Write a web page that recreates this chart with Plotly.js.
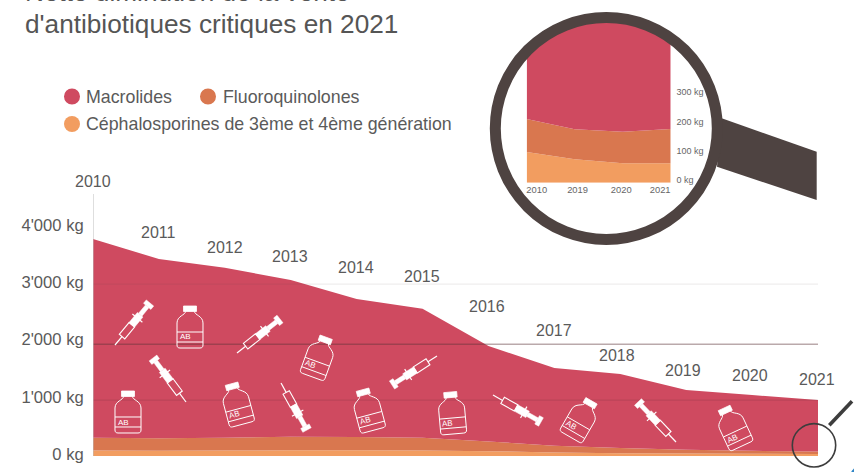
<!DOCTYPE html>
<html>
<head>
<meta charset="utf-8">
<script src="https://cdn.plot.ly/plotly-3.0.1.min.js"></script>
<style>html,body{margin:0;padding:0;background:#fff;}#c{width:854px;height:472px;}</style>
</head>
<body>
<div id="c"></div>
<script>
// ---- data ----
const years = [2010,2011,2012,2013,2014,2015,2016,2017,2018,2019,2020,2021];
const cephalosporines = [95,90,95,100,100,95,85,60,50,45,40,35];
const fluoroquinolones = [225,220,225,235,230,225,170,120,90,65,50,45];
const macrolides = [3467,3128,2967,2736,2410,2250,1665,1355,1290,1040,975,897];
const zoomLabels = ['2010','2019','2020','2021'];
const zoomCephalosporines = [105,80,66,66];
const zoomFluoroquinolones = [112,102,108,117];
const zoomMacrolides = [1290,1040,975,897];
const mainTickText = ["0 kg","1'000 kg","2'000 kg","3'000 kg","4'000 kg"];
const zoomTickText = ['0 kg','100 kg','200 kg','300 kg'];
const seriesNames = ['Macrolides','Fluoroquinolones','Céphalosporines de 3ème et 4ème génération'];
const colors = {macro:'#cf4a60', fluoro:'#d9774f', ceph:'#f29d60'};
const darkText = '#5a5a5a';

// ---- pixel helpers (the paper spans the whole window) ----
const W = 854, H = 472;
const px = x => +(x / W).toFixed(5);
const py = y => +(1 - y / H).toFixed(5);
const FONT = '"Liberation Sans", Arial, sans-serif';

const shapes = [], annotations = [];
function pathFrom(cmds){
  return cmds.map(c => c[0] + (c.length > 1 ? px(c[1]) + ',' + py(c[2]) : '')).join(' ');
}
function addPath(cmds, fill, color, width){
  shapes.push({type:'path', xref:'paper', yref:'paper', layer:'above', path:pathFrom(cmds),
    fillcolor: fill || 'rgba(0,0,0,0)', line:{color: color || 'rgba(0,0,0,0)', width: width || 0}});
}
function addCircle(cx, cy, r, fill, color, width){
  shapes.push({type:'circle', xref:'paper', yref:'paper', layer:'above',
    x0:px(cx-r), x1:px(cx+r), y0:py(cy+r), y1:py(cy-r),
    fillcolor: fill || 'rgba(0,0,0,0)', line:{color: color || 'rgba(0,0,0,0)', width: width || 0}});
}
function addGrid(value, color, w){
  shapes.push({type:'line', xref:'x', yref:'y', layer:'above', x0:2010, x1:2021, y0:value, y1:value,
    line:{color:color, width:w}});
}
function text(str, x, y, size, color, anchor, angle){
  annotations.push({xref:'paper', yref:'paper', x:px(x), y:py(y), text:str, showarrow:false,
    xanchor:anchor||'left', yanchor:'middle', textangle:angle||0,
    font:{family:FONT, size:size, color:color||darkText}, borderpad:0, borderwidth:0});
}

// ---- gridlines, drawn over the area as in the reference ----
addGrid(3000, 'rgba(90,70,70,0.12)', 1);
addGrid(1950, 'rgba(90,50,55,0.42)', 1.3);
addGrid(975, 'rgba(90,40,50,0.2)', 1);
// vertical axis line
shapes.push({type:'line', xref:'x', yref:'paper', layer:'above', x0:2010, x1:2010, y0:py(194), y1:py(456),
  line:{color:'#bdbdbd', width:1}});

// ---- decorative icons ----
function syringe(nx, ny, ex, ey){
  const dx = ex-nx, dy = ey-ny, L = Math.hypot(dx,dy), ux = dx/L, uy = dy/L, vx = -uy, vy = ux;
  const P = (t, s) => [nx + ux*t*L + vx*s, ny + uy*t*L + vy*s];
  const w = 3.6, c = '#ffffff';
  const poly = pts => pts.map((p,i) => [i ? 'L' : 'M', p[0], p[1]]).concat([['Z']]);
  addPath([['M',...P(0,0)],['L',...P(0.2,0)]], null, c, 1.2);
  addPath(poly([P(0.2,-w),P(0.48,-w),P(0.48,w),P(0.2,w)]), null, c, 1.1);
  addPath(poly([P(0.48,-w),P(0.72,-w),P(0.72,w),P(0.48,w)]), c, c, 0.5);
  addPath([['M',...P(0.64,-6.5)],['L',...P(0.64,6.5)]], null, c, 1.2);
  addPath(poly([P(0.72,-2.2),P(0.92,-2.2),P(0.92,2.2),P(0.72,2.2)]), c, c, 0.5);
  addPath(poly([P(0.92,-4.8),P(1,-4.8),P(1,4.8),P(0.92,4.8)]), c, c, 0.5);
}
function vial(cx, cy, deg){
  const a = deg*Math.PI/180, cs = Math.cos(a), sn = Math.sin(a), c = '#ffffff';
  const P = (x, y) => [cx + x*cs - y*sn, cy + x*sn + y*cs];
  const C = (x1,y1,x2,y2,x,y) => { const p=P(x1,y1),q=P(x2,y2),r=P(x,y); return `C${px(p[0])},${py(p[1])} ${px(q[0])},${py(q[1])} ${px(r[0])},${py(r[1])}`; };
  const M = (x,y,l) => { const p=P(x,y); return `${l}${px(p[0])},${py(p[1])}`; };
  const raw = (d, fill, w) => shapes.push({type:'path', xref:'paper', yref:'paper', layer:'above', path:d,
    fillcolor: fill || 'rgba(0,0,0,0)', line:{color:c, width:w}});
  raw([M(-6.5,-21,'M'),M(6.5,-21,'L'),M(6.5,-15.5,'L'),M(-6.5,-15.5,'L'),'Z'].join(' '), c, 0.8);
  raw([M(-4.5,-15.5,'M'),C(-4.5,-12,-13,-11,-13,-4),M(-13,18,'L'),C(-13,20,-12,21,-10,21),M(10,21,'L'),
       C(12,21,13,20,13,18),M(13,-4,'L'),C(13,-11,4.5,-12,4.5,-15.5)].join(' '), null, 1.0);
  raw([M(-13,5,'M'),M(13,5,'L'),M(13,15,'M'),M(-13,15,'L')].join(' '), null, 1.0);
  const t = P(-5,10);
  text('AB', t[0], t[1], 8, c, 'center', deg);
}
[[115,345,150,303],[186,402,153,358],[237,353,280,319],[281,383,307,430],
 [437,356,392,385],[493,395,541,422],[676,442,638,402]].forEach(s => syringe(...s));
[[128,412,0],[190,327,0],[237,404,-15],[319,357,20],[368,410,-15],[452,413,-5],[581,419,30],[733,427,-25]]
  .forEach(v => vial(...v));

// ---- magnifier over the zoomed inset ----
const MX = 606.3, MY = 128.5, MR = 111;
let hole = [];
for (let i = 0; i < 180; i++){
  const a = i*2*Math.PI/180;
  hole.push([i ? 'L' : 'M', MX + MR*Math.cos(a), MY + MR*Math.sin(a)]);
}
shapes.push({type:'path', xref:'paper', yref:'paper', layer:'above', fillrule:'evenodd',
  path: pathFrom([['M',489,9],['L',724,9],['L',724,246],['L',489,246],['Z']]) + ' ' + pathFrom(hole.concat([['Z']])),
  fillcolor:'#ffffff', line:{width:0}});
addPath([['M',721.7,118.3],['L',816.7,151.7],['L',816.7,200],['L',717,166.7],['Z']], '#4e4341');
addCircle(MX, MY, MR, null, '#4e4341', 11);

// small magnifier at the end of the area
addCircle(814, 445.3, 21.7, null, '#3d3d3d', 1.6);
addPath([['M',829.3,425.3],['L',852,401.3]], null, '#3d3d3d', 3.6);
addCircle(861, 477, 11, '#2f86c6');

// ---- legend ----
addCircle(72, 96.5, 8, colors.macro);
addCircle(208, 96.5, 8, colors.fluoro);
addCircle(72, 124, 8, colors.ceph);
text(seriesNames[0], 86, 97, 17.8);
text(seriesNames[1], 223, 97, 17.8);
text(seriesNames[2], 86, 124.5, 17.8);

// ---- titles ----
text("Nette diminution de la vente", 25, -8, 26.2, '#555555');
text("d'antibiotiques critiques en 2021", 25, 24, 26.2, '#555555');

// ---- year labels, staggered above the area ----
const yearLabelY = [182,232,248,257,267,276,307,331,355,370,376,380];
const yearLabelShift = [0,0,0,-1,-1,-1,-1,0,-3,-3,-2,-1];
years.forEach((yr,i) => annotations.push({xref:'x', yref:'paper', x:yr, xshift:yearLabelShift[i], y:py(yearLabelY[i]),
  text:String(yr), showarrow:false, xanchor:'center', yanchor:'middle',
  font:{family:FONT, size:16, color:darkText}}));

// ---- traces ----
const area = (x, y, name, color, group, xa, ya) => ({x, y, name, type:'scatter', mode:'none', stackgroup:group,
  fill:'tonexty', fillcolor:color, xaxis:xa, yaxis:ya, hoverinfo:'name+y', showlegend:false, line:{width:0}});
const zoomX = zoomLabels.map((_,i) => i);
const data = [
  area(years, cephalosporines, seriesNames[2], colors.ceph, 'main', 'x', 'y'),
  area(years, fluoroquinolones, seriesNames[1], colors.fluoro, 'main', 'x', 'y'),
  area(years, macrolides, seriesNames[0], colors.macro, 'main', 'x', 'y'),
  area(zoomX, zoomCephalosporines, seriesNames[2], colors.ceph, 'zoom', 'x2', 'y2'),
  area(zoomX, zoomFluoroquinolones, seriesNames[1], colors.fluoro, 'zoom', 'x2', 'y2'),
  area(zoomX, zoomMacrolides, seriesNames[0], colors.macro, 'zoom', 'x2', 'y2')
];

const layout = {
  width:W, height:H, margin:{l:0,r:0,t:0,b:0}, paper_bgcolor:'#ffffff', plot_bgcolor:'rgba(0,0,0,0)',
  showlegend:false, shapes, annotations,
  font:{family:FONT, color:darkText},
  xaxis:{domain:[px(93),px(818)], range:[2010,2021], showgrid:false, zeroline:false, showline:false,
    showticklabels:false, ticks:'', anchor:'y'},
  yaxis:{domain:[py(456),py(456-4200*0.0573)], range:[0,4200], showgrid:false, zeroline:false, showline:false,
    tickmode:'array', tickvals:[30,1030,2030,3030,4030], ticktext:mainTickText, ticks:'outside', ticklen:5,
    tickcolor:'rgba(0,0,0,0)', tickfont:{family:FONT, size:16.6, color:darkText}, anchor:'x'},
  xaxis2:{domain:[px(526.7),px(670.7)], range:[0,3], showgrid:false, zeroline:false, showline:false,
    tickmode:'array', tickvals:[0.21,1.06,1.97,2.78], ticktext:zoomLabels, ticks:'', 
    tickfont:{family:FONT, size:9.4, color:'#666666'}, anchor:'y2'},
  yaxis2:{domain:[py(182.7),py(182.7-585*0.293)], range:[0,585], side:'right', showgrid:false, zeroline:false, showline:false,
    tickmode:'array', tickvals:[9,109,209,309], ticktext:zoomTickText, ticks:'outside', ticklen:3,
    tickcolor:'rgba(0,0,0,0)', tickfont:{family:FONT, size:9, color:'#666666'}, anchor:'x2'}
};
Plotly.newPlot('c', data, layout, {displayModeBar:false, responsive:false, staticPlot:true});
</script>
</body>
</html>
